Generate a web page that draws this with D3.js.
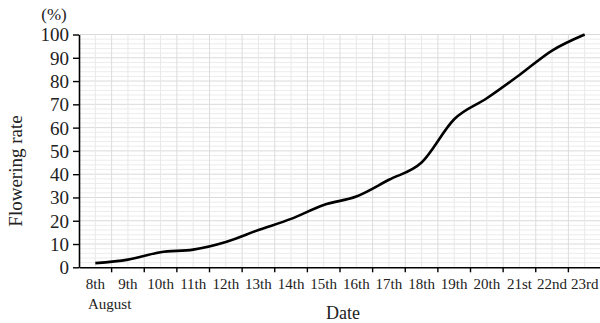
<!DOCTYPE html>
<html><head><meta charset="utf-8">
<script src="https://cdn.jsdelivr.net/npm/d3@7"></script>
<style>body{margin:0;background:#fff}svg{display:block}text{font-family:"Liberation Serif","Times New Roman",serif;fill:#222}</style>
</head><body><svg id="c" width="600" height="323"></svg>
<script>
const days = ["8th","9th","10th","11th","12th","13th","14th","15th","16th","17th","18th","19th","20th","21st","22nd","23rd"];
const rate = [1.8,3.3,6.5,7.6,10.9,16.0,20.8,26.8,30.4,37.6,45.0,63.6,72.6,82.6,93.1,100];
const yTicks = [0,10,20,30,40,50,60,70,80,90,100];

const svg = d3.select("#c");
const L = 79, R = 601, T = 34.5, B = 267.3;
const x = d3.scaleBand().domain(days).range([L, R]);
const y = d3.scaleLinear().domain([0,100]).range([B, T]);

// grid
const g = svg.append("g");
d3.range(2,101,2).forEach(v=>{
  g.append("line").attr("x1",L).attr("x2",R).attr("y1",y(v)).attr("y2",y(v))
   .attr("stroke", v%10===0 ? "#dadada" : "#ececec").attr("stroke-width",1);
});
days.forEach(d=>{
  [x(d), x(d)+x.bandwidth()/2].forEach((xx,i)=>{
    if (xx<=L+0.5) return;
    g.append("line").attr("x1",xx).attr("x2",xx).attr("y1",T).attr("y2",B)
     .attr("stroke", i===0 ? "#dcdcdc" : "#e8e8e8").attr("stroke-width",1);
  });
});

// line
const line = d3.line().x((d,i)=>x(days[i])+x.bandwidth()/2).y(d=>y(d)).curve(d3.curveMonotoneX);
svg.append("path").datum(rate).attr("d",line).attr("fill","none").attr("stroke","#000").attr("stroke-width",2.6).attr("stroke-linejoin","round");

// y axis
const ya = svg.append("g").attr("transform",`translate(${L},0)`)
  .call(d3.axisLeft(y).tickValues(yTicks).tickSize(6).tickSizeOuter(0));
ya.attr("font-family",null);
ya.select(".domain").attr("stroke","#000").attr("stroke-width",1.6);
ya.selectAll(".tick line").attr("stroke","#000").attr("stroke-width",1.4);
ya.selectAll(".tick text").attr("font-size",19).attr("x",-10).attr("dy","0.34em").style("font-family","Liberation Serif").style("fill","#222");

// x axis
const xa = svg.append("g").attr("transform",`translate(0,${B})`)
  .call(d3.axisBottom(x).tickSize(0).tickSizeOuter(0));
xa.attr("font-family",null);
xa.select(".domain").attr("stroke","#000").attr("stroke-width",1.6);
xa.selectAll(".tick text").attr("font-size",15).attr("y",11).attr("dy","0.71em").style("font-family","Liberation Serif").style("fill","#222");
days.forEach(d=>{
  if (x(d)<=L) return;
  xa.append("line").attr("x1",x(d)).attr("x2",x(d)).attr("y1",0).attr("y2",5).attr("stroke","#000").attr("stroke-width",1.4);
});

// labels
svg.append("text").attr("x",88).attr("y",309).attr("font-size",15).text("August");
svg.append("text").attr("x",343).attr("y",319).attr("text-anchor","middle").attr("font-size",18).text("Date");
svg.append("text").attr("transform","translate(22,171) rotate(-90)").attr("text-anchor","middle").attr("font-size",19).text("Flowering rate");
svg.append("text").attr("x",54).attr("y",20).attr("text-anchor","middle").attr("font-size",17).text("(%)");
</script></body></html>
